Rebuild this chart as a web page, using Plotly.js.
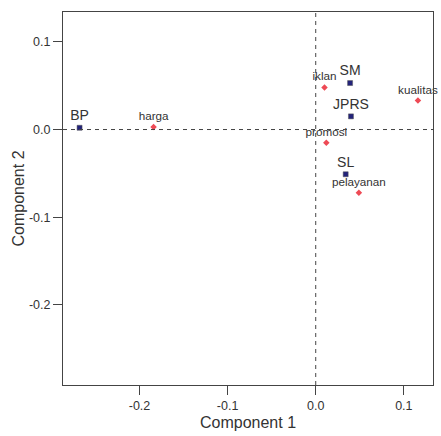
<!DOCTYPE html>
<html>
<head>
<meta charset="utf-8">
<script src="https://cdn.plot.ly/plotly-3.0.1.min.js"></script>
<style>html,body{margin:0;padding:0;background:#fff;}#chart{width:441px;height:436px;}</style>
</head>
<body>
<div id="chart"></div>
<script>
// Row points (blue squares)
const rowLabels = ["BP", "SM", "JPRS", "SL"];
const rowX = [-0.268, 0.039, 0.040, 0.034];
const rowY = [0.002, 0.053, 0.015, -0.051];

// Column points (red)
const colLabels = ["harga", "iklan", "kualitas", "promosi", "pelayanan"];
const colX = [-0.184, 0.010, 0.116, 0.012, 0.049];
const colY = [0.003, 0.048, 0.033, -0.015, -0.072];

const xTicks = [-0.2, -0.1, 0.0, 0.1];
const yTicks = [-0.2, -0.1, 0.0, 0.1];
const tickText = v => v.toFixed(1);

const font = "Liberation Sans, Arial, sans-serif";

const traces = [
  {
    x: colX, y: colY, text: colLabels, mode: "markers+text", type: "scatter",
    textposition: "top center",
    marker: {symbol: "diamond", size: 5, color: "#ee4a55"},
    textfont: {family: font, size: 11.7, color: "#333"},
    hoverinfo: "text", cliponaxis: false
  },
  {
    x: rowX, y: rowY, text: rowLabels, mode: "markers+text", type: "scatter",
    textposition: "top center",
    marker: {symbol: "square", size: 5, color: "#23237a", line: {width: 0.5, color: "#555"}},
    textfont: {family: font, size: 14, color: "#333"},
    hoverinfo: "text", cliponaxis: false
  }
];

const layout = {
  width: 441, height: 436,
  margin: {l: 63, r: 8, t: 12, b: 51},
  paper_bgcolor: "#fff", plot_bgcolor: "#fff",
  showlegend: false,
  font: {family: font, color: "#333", size: 12.5},
  xaxis: {
    range: [-0.2868, 0.1331],
    tickvals: xTicks, ticktext: xTicks.map(tickText),
    ticks: "outside", ticklen: 9, tickcolor: "#444",
    showgrid: false, zeroline: false,
    showline: true, linecolor: "#444", linewidth: 1, mirror: true,
    tickfont: {family: font, size: 12.5, color: "#333"},
    title: {text: "Component 1", font: {family: font, size: 16, color: "#333"}, standoff: 4}
  },
  yaxis: {
    range: [-0.2913, 0.134],
    tickvals: yTicks, ticktext: yTicks.map(tickText),
    ticks: "outside", ticklen: 9, tickcolor: "#444",
    showgrid: false, zeroline: false,
    showline: true, linecolor: "#444", linewidth: 1, mirror: true,
    tickfont: {family: font, size: 12.5, color: "#333"},
    title: {text: "Component 2", font: {family: font, size: 16, color: "#333"}, standoff: 0}
  },
  shapes: [
    {type: "line", xref: "x", yref: "paper", x0: 0, x1: 0, y0: 0, y1: 1,
     line: {color: "#444", width: 1, dash: "4px,4px"}},
    {type: "line", xref: "paper", yref: "y", x0: 0, x1: 1, y0: 0, y1: 0,
     line: {color: "#444", width: 1, dash: "4px,4px"}}
  ]
};

Plotly.newPlot("chart", traces, layout, {displayModeBar: false, staticPlot: true});
</script>
</body>
</html>
